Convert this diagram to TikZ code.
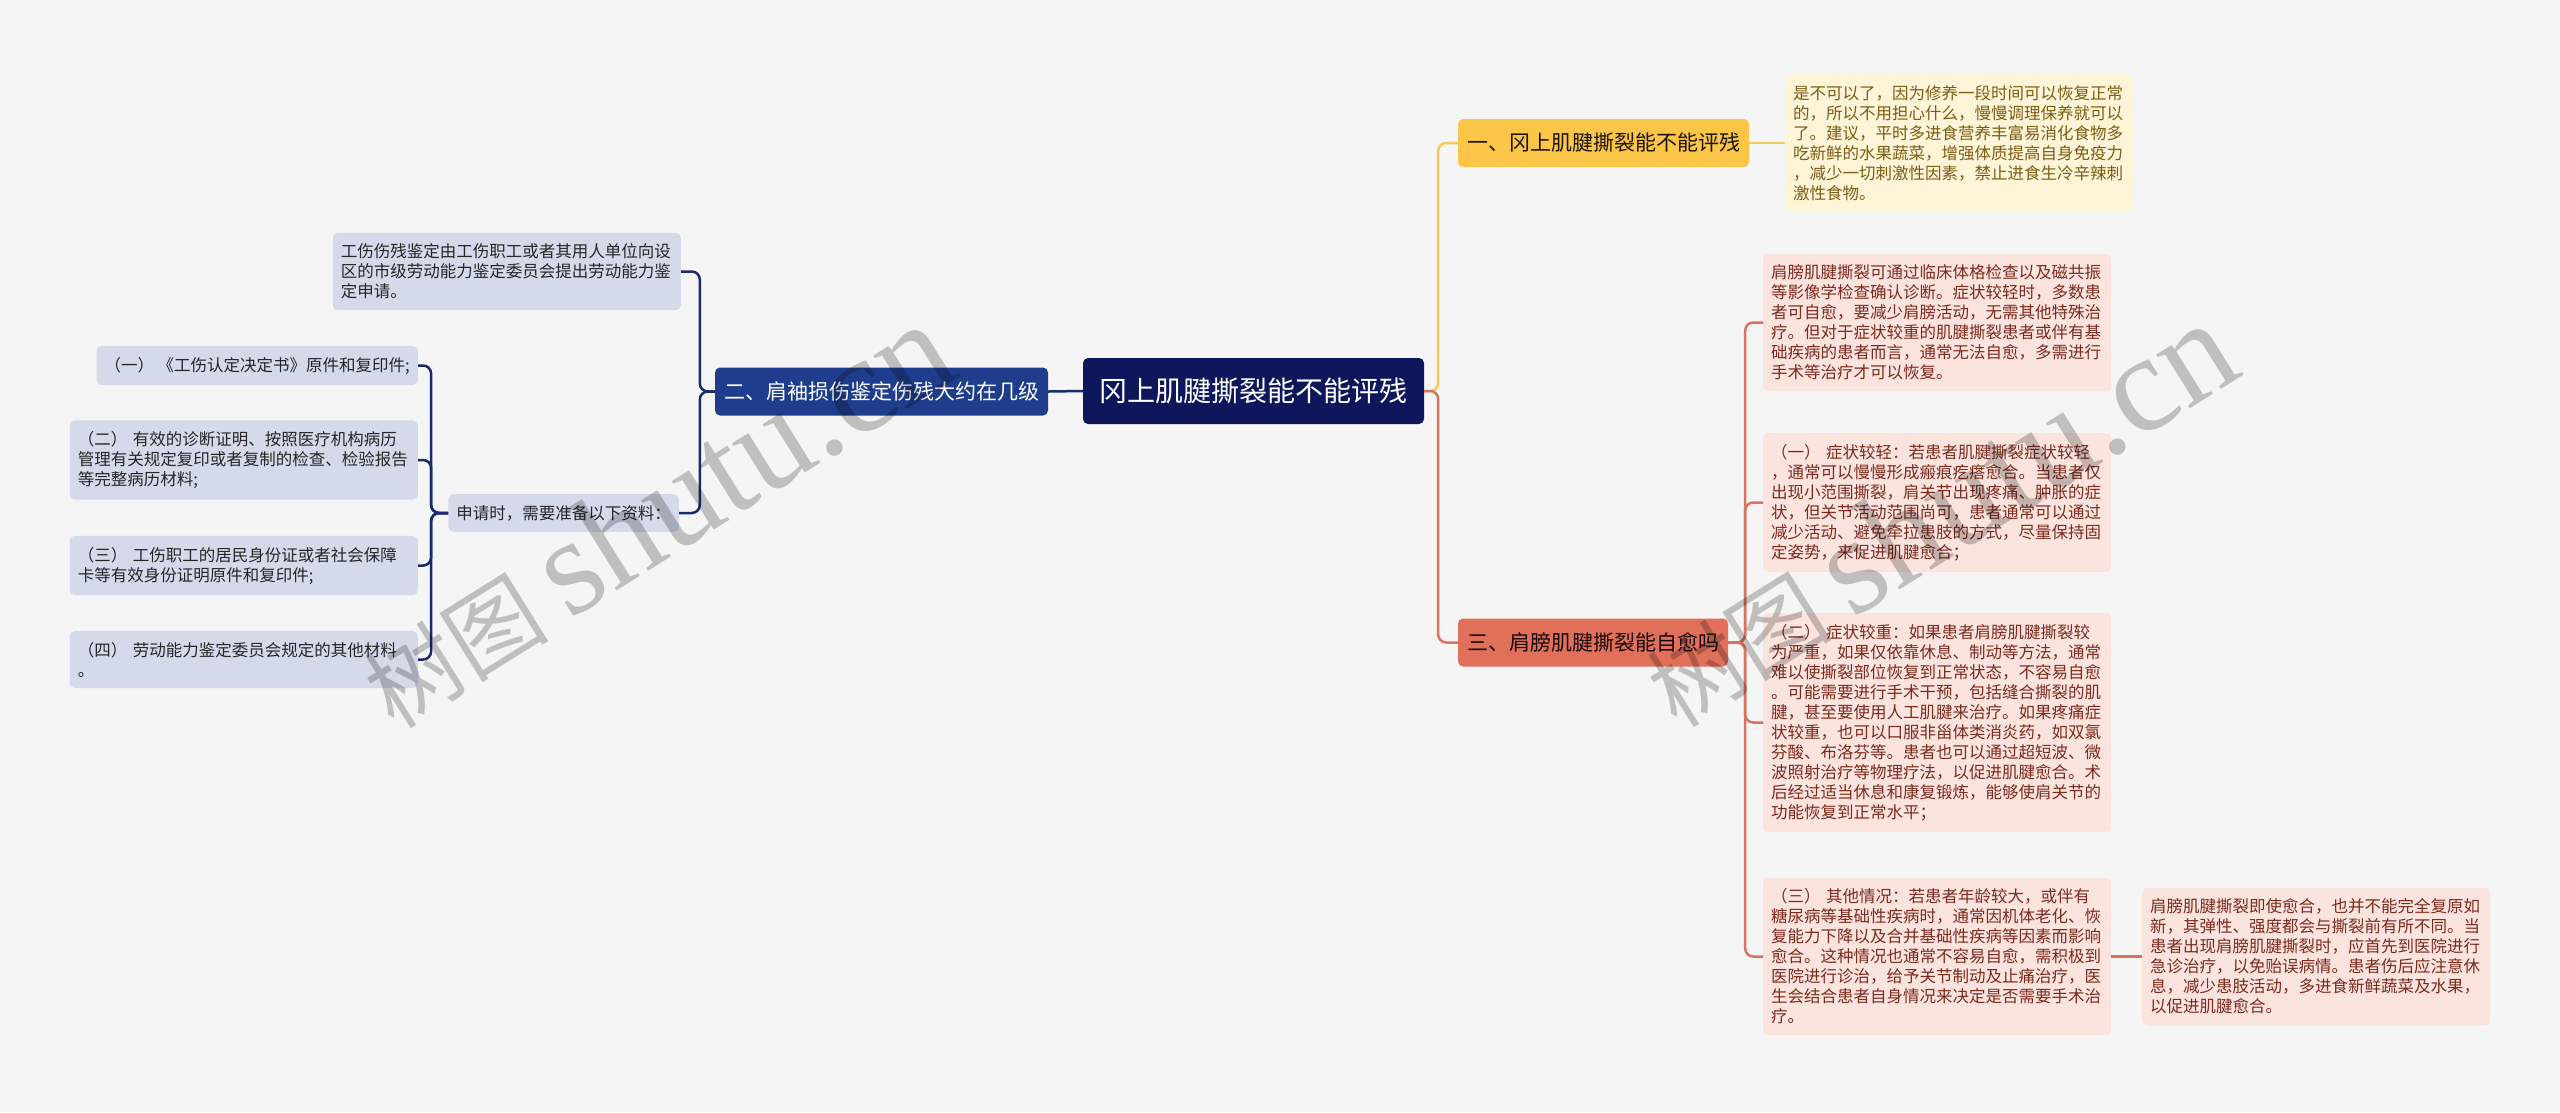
\documentclass[tikz,border=0pt]{standalone}
\usepackage{fontspec}
\setmainfont{Noto Sans CJK SC}
\newfontfamily\wmfont{Liberation Serif}
\definecolor{bgcol}{HTML}{F5F5F5}
\definecolor{rootcol}{HTML}{0E175C}
\definecolor{navycol}{HTML}{1F3D8D}
\definecolor{navyline}{HTML}{1B2A6B}
\definecolor{navyleaf}{HTML}{D5DAEA}
\definecolor{yellowcol}{HTML}{FBC547}
\definecolor{yellowline}{HTML}{F6C95A}
\definecolor{yellowleaf}{HTML}{FEF4D8}
\definecolor{yellowtext}{HTML}{7C5D14}
\definecolor{redcol}{HTML}{E1705A}
\definecolor{redline}{HTML}{D8735E}
\definecolor{redleaf}{HTML}{FBE3DE}
\definecolor{redtext}{HTML}{7C2B1F}

\tikzset{
  box/.style={rounded corners=5pt, inner xsep=8pt, inner ysep=11pt, align=left,
    font=\fontsize{16.5}{20}\selectfont},
  leafbox/.style={box, text width=332pt},
  branchbox/.style={rounded corners=5pt, inner xsep=9pt, minimum height=48pt,
    font=\fontsize{21}{25}\selectfont},
  link/.style={line width=2.5pt, rounded corners=8pt},
  wmark/.style={text=black, text opacity=0.22, inner sep=0pt}
}

\begin{document}
\begin{tikzpicture}[x=1pt, y=-1pt]
    % page
    \path[use as bounding box, fill=bgcol] (0,0) rectangle (2560,1112);

    % centre topic
    \node[rounded corners=5pt, fill=rootcol, text=white, minimum width=341pt, minimum height=66pt,
      font=\fontsize{28}{32}\selectfont] (root) at (1253.5,391) {冈上肌腱撕裂能不能评残};

    % main branches
    \node[branchbox, fill=yellowcol, text=black!80!yellowtext] (b1) at (1603.5,143) {一、冈上肌腱撕裂能不能评残};
    \node[branchbox, fill=navycol, text=white] (b2) at (881.5,391.5) {二、肩袖损伤鉴定伤残大约在几级};
    \node[branchbox, fill=redcol, text=black!85!redtext] (b3) at (1593,642.5) {三、肩膀肌腱撕裂能自愈吗};

    % branch one
    \node[leafbox, fill=yellowleaf, text=yellowtext, anchor=west] (y1) at (1785,143) {是不可以了，因为修养一段时间可以恢复正常\\的，所以不用担心什么，慢慢调理保养就可以\\了。建议，平时多进食营养丰富易消化食物多\\吃新鲜的水果蔬菜，增强体质提高自身免疫力\\，减少一切刺激性因素，禁止进食生冷辛辣刺\\激性食物。};

    % branch two
    \node[leafbox, fill=navyleaf, text=black!85, anchor=east] (n1) at (681,271.5) {工伤伤残鉴定由工伤职工或者其用人单位向设\\区的市级劳动能力鉴定委员会提出劳动能力鉴\\定申请。};
    \node[box, fill=navyleaf, text=black!85, anchor=east] (n2) at (679,513) {申请时，需要准备以下资料：};
    \node[box, fill=navyleaf, text=black!85, anchor=east] (n2a) at (418,365.5) {（一） 《工伤认定决定书》原件和复印件;};
    \node[leafbox, fill=navyleaf, text=black!85, anchor=east] (n2b) at (418,460) {（二） 有效的诊断证明、按照医疗机构病历\\管理有关规定复印或者复制的检查、检验报告\\等完整病历材料;};
    \node[leafbox, fill=navyleaf, text=black!85, anchor=east] (n2c) at (418,565.5) {（三） 工伤职工的居民身份证或者社会保障\\卡等有效身份证明原件和复印件;};
    \node[leafbox, fill=navyleaf, text=black!85, anchor=east] (n2d) at (418,659.5) {（四） 劳动能力鉴定委员会规定的其他材料\\。};

    % branch three
    \node[leafbox, fill=redleaf, text=redtext, anchor=west] (r1) at (1763,322.5) {肩膀肌腱撕裂可通过临床体格检查以及磁共振\\等影像学检查确认诊断。症状较轻时，多数患\\者可自愈，要减少肩膀活动，无需其他特殊治\\疗。但对于症状较重的肌腱撕裂患者或伴有基\\础疾病的患者而言，通常无法自愈，多需进行\\手术等治疗才可以恢复。};
    \node[leafbox, fill=redleaf, text=redtext, anchor=west] (r2) at (1763,502.5) {（一） 症状较轻：若患者肌腱撕裂症状较轻\\，通常可以慢慢形成瘢痕疙瘩愈合。当患者仅\\出现小范围撕裂，肩关节出现疼痛、肿胀的症\\状，但关节活动范围尚可，患者通常可以通过\\减少活动、避免牵拉患肢的方式，尽量保持固\\定姿势，来促进肌腱愈合；};
    \node[leafbox, fill=redleaf, text=redtext, anchor=west] (r3) at (1763,722.5) {（二） 症状较重：如果患者肩膀肌腱撕裂较\\为严重，如果仅依靠休息、制动等方法，通常\\难以使撕裂部位恢复到正常状态，不容易自愈\\。可能需要进行手术干预，包括缝合撕裂的肌\\腱，甚至要使用人工肌腱来治疗。如果疼痛症\\状较重，也可以口服非甾体类消炎药，如双氯\\芬酸、布洛芬等。患者也可以通过超短波、微\\波照射治疗等物理疗法，以促进肌腱愈合。术\\后经过适当休息和康复锻炼，能够使肩关节的\\功能恢复到正常水平；};
    \node[leafbox, fill=redleaf, text=redtext, anchor=west] (r4) at (1763,956.5) {（三） 其他情况：若患者年龄较大，或伴有\\糖尿病等基础性疾病时，通常因机体老化、恢\\复能力下降以及合并基础性疾病等因素而影响\\愈合。这种情况也通常不容易自愈，需积极到\\医院进行诊治，给予关节制动及止痛治疗，医\\生会结合患者自身情况来决定是否需要手术治\\疗。};
    \node[leafbox, fill=redleaf, text=redtext, anchor=west] (r4a) at (2142,956.5) {肩膀肌腱撕裂即使愈合，也并不能完全复原如\\新，其弹性、强度都会与撕裂前有所不同。当\\患者出现肩膀肌腱撕裂时，应首先到医院进行\\急诊治疗，以免贻误病情。患者伤后应注意休\\息，减少患肢活动，多进食新鲜蔬菜及水果，\\以促进肌腱愈合。};

    % links from the centre
    \draw[link, navyline] (root.west) -- (b2.east);
    \draw[link, yellowline] (root.east) -- ++(14,0) |- (b1.west);
    \draw[link, redline] (root.east) -- ++(14,0) |- (b3.west);

    % links inside the branches
    \draw[link, yellowline] (b1.east) -- (b1.east -| y1.west);
    \draw[link, navyline] (b2.west) -- ++(-15,0) |- (n1.east);
    \draw[link, navyline] (b2.west) -- ++(-15,0) |- (n2.east);
    \foreach \k in {n2a, n2b, n2c, n2d}
      \draw[link, navyline] (n2.west) -- ++(-17,0) |- (\k.east);
    \foreach \k in {r1, r2, r3, r4}
      \draw[link, redline] (b3.east) -- ++(17,0) |- (\k.west);
    \draw[link, redline] (r4.east) -- (r4.east -| r4a.west);

    % watermarks
    \node[wmark, rotate=32] (wm1) at (655,515) {\fontsize{93}{98}\selectfont 树图 {\wmfont\fontsize{138}{142}\selectfont shutu.cn}};
    \node[wmark, rotate=32] (wm2) at (1938,514) {\fontsize{93}{98}\selectfont 树图 {\wmfont\fontsize{138}{142}\selectfont shutu.cn}};
\end{tikzpicture}
\end{document}
